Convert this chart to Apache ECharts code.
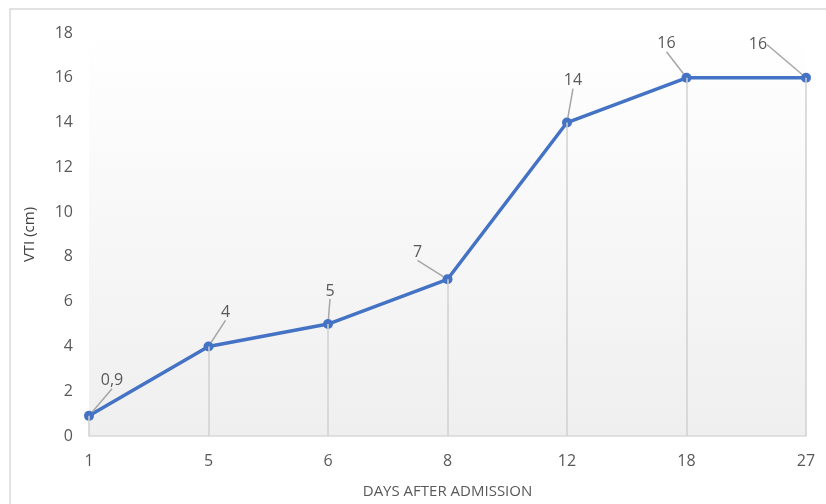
<!DOCTYPE html>
<html>
<head>
<meta charset="utf-8">
<script src="https://cdn.jsdelivr.net/npm/echarts@6/dist/echarts.min.js"></script>
<style>
  html, body { margin: 0; padding: 0; background: #fff; }
  #chart { width: 826px; height: 504px; }
</style>
</head>
<body>
<div id="chart"></div>
<script>
const days = ['1', '5', '6', '8', '12', '18', '27'];
const vti = [0.9, 4, 5, 7, 14, 16, 16];
const yTicks = { min: 0, max: 18, interval: 2 };

// label nudges (px) so they sit like the original callouts
const labelNudge = [[23, -17], [17, -16], [2, -15], [-30, -9], [6, -24], [-20, -16], [-48, -15]];

const chart = echarts.init(document.getElementById('chart'));
const font = '"Open Sans", "Noto Sans", sans-serif';

const option = {
  animation: false,
  backgroundColor: '#fff',
  graphic: [{
    type: 'rect',
    shape: { x: 10, y: 9, width: 830, height: 520 },
    style: { fill: 'none', stroke: '#d9d9d9', lineWidth: 1.5 },
    silent: true,
    z: -10
  }],
  grid: {
    left: 89,
    right: 20,
    top: 33,
    bottom: 66,
    show: true,
    borderWidth: 0,
    backgroundColor: new echarts.graphic.LinearGradient(0, 0, 0, 1, [
      { offset: 0, color: '#ffffff' },
      { offset: 1, color: '#efefef' }
    ])
  },
  xAxis: {
    type: 'category',
    data: days,
    boundaryGap: false,
    name: 'DAYS AFTER ADMISSION',
    nameLocation: 'middle',
    nameGap: 48,
    nameTextStyle: { color: '#595959', fontSize: 15, fontFamily: font },
    axisLine: { lineStyle: { color: '#d9d9d9', width: 1.5 } },
    axisTick: { show: false },
    axisLabel: { color: '#595959', fontSize: 16, fontFamily: font, margin: 17 },
    splitLine: { show: false }
  },
  yAxis: {
    type: 'value',
    min: yTicks.min,
    max: yTicks.max,
    interval: yTicks.interval,
    name: 'VTI (cm)',
    nameLocation: 'middle',
    nameGap: 52,
    nameTextStyle: { color: '#404040', fontSize: 15, fontFamily: font },
    axisLine: { show: false },
    axisTick: { show: false },
    axisLabel: { color: '#595959', fontSize: 16, fontFamily: font, margin: 16 },
    splitLine: { show: false }
  },
  series: [{
    name: 'VTI',
    type: 'line',
    data: vti,
    symbol: 'circle',
    symbolSize: 10,
    lineStyle: { color: '#4472c4', width: 3.5 },
    itemStyle: { color: '#4472c4' },
    label: {
      show: true,
      position: 'top',
      color: '#595959',
      fontSize: 16,
      fontFamily: font,
      formatter: (p) => String(p.value).replace('.', ',')
    },
    labelLine: { show: true, lineStyle: { color: '#a6a6a6', width: 1.5 } },
    labelLayout: (p) => ({ dx: labelNudge[p.dataIndex][0], dy: labelNudge[p.dataIndex][1] }),
    markLine: {
      silent: true,
      symbol: 'none',
      label: { show: false },
      lineStyle: { color: '#d0d0d0', type: 'solid', width: 1.5 },
      data: vti.map((v, i) => [{ xAxis: i, yAxis: 0 }, { xAxis: i, yAxis: v }])
    },
    z: 3
  }]
};

chart.setOption(option);
</script>
</body>
</html>
